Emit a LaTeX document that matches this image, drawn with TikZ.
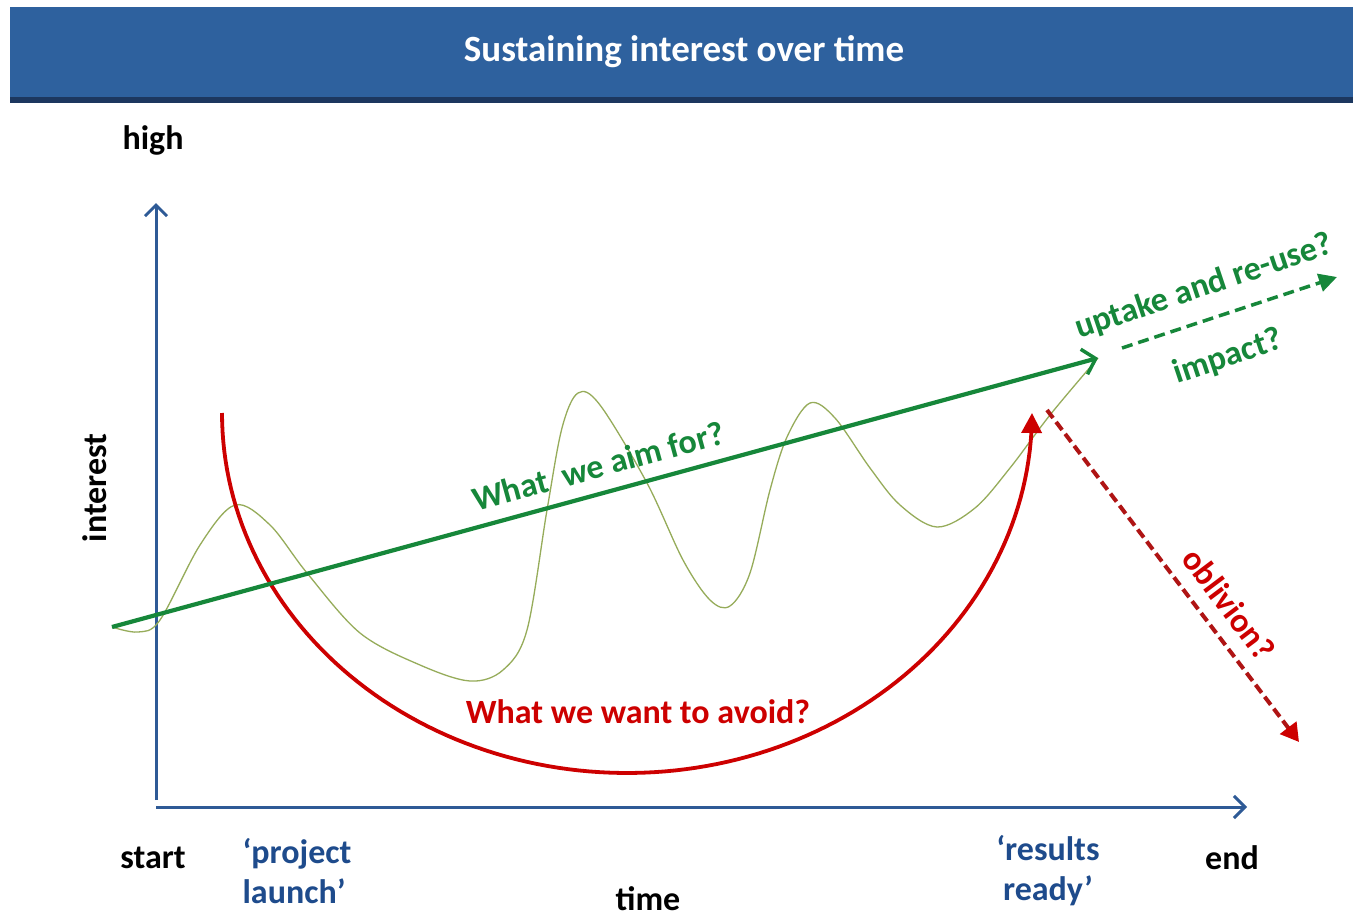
\documentclass[tikz,border=0pt]{standalone}
\usepackage{fontspec}
\setmainfont{Carlito}
\usetikzlibrary{arrows.meta}
\definecolor{barblue}{RGB}{46,97,158}
\definecolor{bardark}{RGB}{28,55,95}
\definecolor{axisblue}{RGB}{46,90,150}
\definecolor{lblblue}{RGB}{30,75,140}
\definecolor{aimgreen}{RGB}{22,135,58}
\definecolor{olive}{RGB}{150,172,90}
\definecolor{avoidred}{RGB}{205,0,0}
\definecolor{darkred}{RGB}{175,20,20}
\begin{document}
\begin{tikzpicture}[x=1pt,y=-1pt,
  lbl/.style={font=\fontsize{34}{40}\selectfont\bfseries, inner sep=0pt},
  axisline/.style={draw=axisblue, line width=3pt, -{Straight Barb[length=11pt,width=22pt,line width=3pt]}},
  aimline/.style={draw=aimgreen, line width=4.2pt, -{Straight Barb[length=12pt,width=26pt,line width=3.5pt]}},
  upline/.style={draw=aimgreen, line width=3.5pt, dash pattern=on 11pt off 6pt, -{Triangle[length=18pt,width=18pt]}},
  oblline/.style={draw=darkred, line width=4pt, dash pattern=on 10pt off 5pt, -{Triangle[length=18pt,width=20pt,color=avoidred]}},
  avoidline/.style={draw=avoidred, line width=3.8pt, -{Triangle[length=20pt,width=20pt]}},
  wave/.style={draw=olive, line width=1.3pt}
]
\useasboundingbox (0,0) rectangle (1353,919);
\fill[white] (0,0) rectangle (1353,919);
% title bar
\fill[barblue] (10,7) rectangle (1353,98);
\fill[bardark] (10,97) rectangle (1353,103);
\node[lbl, text=white, font=\fontsize{37}{40}\selectfont\bfseries] (title) at (684,52) {Sustaining interest over time};

% axes
\coordinate (origin) at (156,807);
\coordinate (ytop) at (156,203);
\coordinate (xend) at (1247,807);
\draw[axisline] (156,800) -- (ytop);
\draw[axisline] (origin) -- (xend);

% axis labels
\node[lbl] (high) at (153,140) {high};
\node[lbl, rotate=90] (interest) at (95,488) {interest};
\node[lbl] (start) at (153,858) {start};
\node[lbl] (end) at (1232,858) {end};
\node[lbl] (time) at (648,899) {time};
\node[lbl, text=lblblue, align=left] (launch) at (297,871) {‘project\\launch’};
\node[lbl, text=lblblue, align=center] (ready) at (1048,871) {‘results\\ready’};

% wavy interest curve
\draw[wave] plot[smooth, tension=0.55] coordinates {
 (112,627) (138,632) (160,620) (200,545) (235,505) (270,525) (307,573)
 (360,633) (420,665) (470,681) (503,670) (527,630) (547,510) (562,428)
 (578,393) (600,405) (647,483) (683,560) (710,600) (730,606) (750,573)
 (770,490) (787,437) (810,403) (835,418) (870,468) (900,505) (937,527)
 (975,508) (1010,468) (1050,415) (1098,358)};

% what we want to avoid
\draw[avoidline] plot[domain=180:360, samples=120] ({627+405*cos(\x)}, {413-360*sin(\x)});
\node[lbl, text=avoidred] (avoid) at (638,712) {What we want to avoid?};

% what we aim for
\coordinate (aim0) at (112,627);
\coordinate (aim1) at (1098,358);
\draw[aimline] (aim0) -- (aim1);
\node[lbl, text=aimgreen, rotate=15.3] (aimtxt) at (598,466) {What\ \ we aim for?};

% uptake
\coordinate (up0) at (1122,348);
\coordinate (up1) at (1337,277);
\draw[upline] (up0) -- (up1);
\node[lbl, text=aimgreen, rotate=18.5] (uptake) at (1204,287) {uptake and re-use?};
\node[lbl, text=aimgreen, rotate=18.5] (impact) at (1228,357) {impact?};

% oblivion
\coordinate (ob0) at (1047,410);
\coordinate (ob1) at (1299,742);
\draw[oblline] (ob0) -- (ob1);
\node[lbl, text=avoidred, rotate=-53] (obl) at (1229,604) {oblivion?};
\end{tikzpicture}
\end{document}
